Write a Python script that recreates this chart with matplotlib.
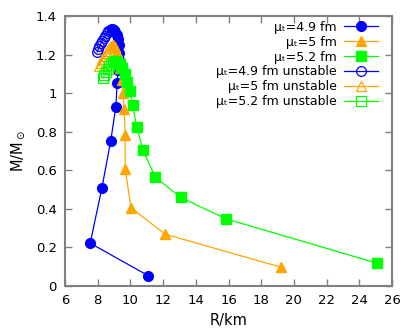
import matplotlib
matplotlib.use("Agg")
import matplotlib.pyplot as plt
from matplotlib.ticker import FuncFormatter

# mu_t = 4.9 fm
r49_stable = [11.08, 7.54, 8.26, 8.80, 9.11, 9.19, 9.25, 9.29, 9.30, 9.28, 9.23, 9.16, 9.07, 8.97, 8.87]
m49_stable = [0.054, 0.222, 0.509, 0.754, 0.930, 1.054, 1.12, 1.17, 1.21, 1.25, 1.28, 1.30, 1.318, 1.328, 1.333]
r49_unst = [8.87, 8.76, 8.65, 8.55, 8.45, 8.36, 8.27, 8.19, 8.11, 8.04, 7.97]
m49_unst = [1.333, 1.329, 1.320, 1.310, 1.298, 1.285, 1.272, 1.258, 1.244, 1.229, 1.214]

# mu_t = 5 fm
r50_stable = [19.23, 12.12, 10.04, 9.68, 9.68, 9.62, 9.55, 9.47, 9.38, 9.28, 9.16, 9.04, 8.93]
m50_stable = [0.097, 0.269, 0.405, 0.609, 0.783, 0.917, 1.00, 1.07, 1.13, 1.18, 1.215, 1.238, 1.248]
r50_unst = [8.93, 8.81, 8.70, 8.59, 8.48, 8.38, 8.28, 8.19, 8.10]
m50_unst = [1.248, 1.243, 1.233, 1.220, 1.206, 1.191, 1.175, 1.158, 1.140]

# mu_t = 5.2 fm
r52_stable = [25.10, 15.82, 13.07, 11.53, 10.77, 10.39, 10.13, 9.97, 9.82, 9.66, 9.50, 9.35, 9.20, 9.06]
m52_stable = [0.118, 0.349, 0.460, 0.564, 0.703, 0.825, 0.939, 1.010, 1.060, 1.100, 1.130, 1.150, 1.162, 1.166]
r52_unst = [9.06, 8.93, 8.81, 8.70, 8.60, 8.50, 8.41, 8.33]
m52_unst = [1.166, 1.162, 1.152, 1.140, 1.126, 1.111, 1.095, 1.078]

labels = ["μₜ=4.9 fm", "μₜ=5 fm", "μₜ=5.2 fm",
          "μₜ=4.9 fm unstable", "μₜ=5 fm unstable", "μₜ=5.2 fm unstable"]
xticks = [6, 8, 10, 12, 14, 16, 18, 20, 22, 24, 26]
yticks = [0, 0.2, 0.4, 0.6, 0.8, 1.0, 1.2, 1.4]

blue, orange, green = "#0000ff", "#ffa500", "#00ff00"

fig = plt.figure(figsize=(4.15, 3.31), dpi=100)
ax = fig.add_axes([65/415, 1-286/331, (392-65)/415, (286-16)/331])

ax.plot(r49_stable, m49_stable, color=blue, lw=0.9, marker="o", ms=7, mec=blue, mfc=blue, label=labels[0])
ax.plot(r50_stable, m50_stable, color=orange, lw=0.9, marker="^", ms=7.5, mec=orange, mfc=orange, label=labels[1])
ax.plot(r52_stable, m52_stable, color=green, lw=0.9, marker="s", ms=7, mec=green, mfc=green, label=labels[2])
ax.plot(r49_unst, m49_unst, color=blue, lw=0.9, marker="o", ms=7, mec=blue, mfc="none", mew=0.9, label=labels[3])
ax.plot(r50_unst, m50_unst, color=orange, lw=0.9, marker="^", ms=7.5, mec=orange, mfc="none", mew=0.9, label=labels[4])
ax.plot(r52_unst, m52_unst, color=green, lw=0.9, marker="s", ms=7, mec=green, mfc="none", mew=0.9, label=labels[5])

ax.set_xlim(6, 26)
ax.set_ylim(0, 1.4)
ax.set_xticks(xticks)
ax.set_yticks(yticks)
ax.yaxis.set_major_formatter(FuncFormatter(lambda v, p: f"{v:g}"))
ax.tick_params(direction="in", top=True, right=True, length=5, width=1, color="#808080",
               labelsize=9.5, pad=6)
for s in ax.spines.values():
    s.set_color("#808080")
    s.set_linewidth(1.5)

ax.set_xlabel("R/km", fontsize=10.5, labelpad=4)
ax.set_ylabel(r"M/M$_\odot$", fontsize=10.5, labelpad=6)

leg = ax.legend(loc="upper right", bbox_to_anchor=(0.957, 0.982), markerfirst=False, frameon=False,
                fontsize=9, handlelength=2.75, labelspacing=0.15, borderaxespad=0.0, borderpad=0.0,
                handletextpad=0.55)
for t in leg.get_texts():
    t.set_ha("right")

fig.savefig("out.png", dpi=100)
